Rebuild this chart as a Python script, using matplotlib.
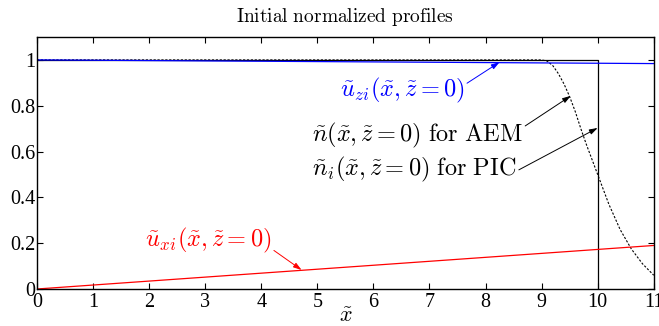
import matplotlib
matplotlib.use("Agg")
import matplotlib.pyplot as plt

plt.rcParams["mathtext.fontset"] = "cm"
plt.rcParams["font.family"] = "Liberation Serif"

# PIC ion density: flat top with a sharp edge at x = 10
x_pic = [0, 10, 10]
n_pic = [1.0, 1.0, 0.0]

# AEM density: flat, then a smooth fall-off past x ~ 9
x_aem = [0, 9.0, 9.1, 9.2, 9.3, 9.4, 9.5, 9.6, 9.7, 9.8, 9.9, 10.0,
         10.2, 10.4, 10.6, 10.8, 11.0]
n_aem = [1.0, 1.0, 0.995, 0.975, 0.94, 0.895, 0.84, 0.775, 0.70, 0.63,
         0.565, 0.5, 0.37, 0.26, 0.175, 0.11, 0.06]

# ion velocity components
x_u = [0, 11]
u_zi = [1.0, 0.984]
u_xi = [0.0, 0.19]

fig = plt.figure(figsize=(6.59, 3.26), dpi=100)
ax = fig.add_axes([0.056, 0.1135, 0.936, 0.773])

ax.plot(x_pic, n_pic, color="black", lw=0.9)
ax.plot(x_aem, n_aem, color="black", lw=0.8, dashes=(2.0, 1.5))
ax.plot(x_u, u_zi, color="blue", lw=0.9)
ax.plot(x_u, u_xi, color="red", lw=0.9)

ax.set_xlim(0, 11)
ax.set_ylim(0, 1.1)
ax.set_xticks(range(0, 12))
ax.set_yticks([0, 0.2, 0.4, 0.6, 0.8, 1.0])
ax.set_yticklabels(["0", "0.2", "0.4", "0.6", "0.8", "1"])
ax.tick_params(direction="in", top=True, right=True, labelsize=14.5,
               length=4, width=0.8)
ax.tick_params(axis="x", pad=3)
ax.tick_params(axis="y", pad=1)
for s in ax.spines.values():
    s.set_linewidth(1.0)

ax.set_xlabel(r"$\tilde{x}$", fontsize=16, labelpad=-3)
ax.set_title(r"$\mathrm{Initial\ normalized\ profiles}$", fontsize=14, pad=11)

arrow = dict(arrowstyle="-|>,head_length=0.28,head_width=0.09",
             color="black", lw=0.7, shrinkA=0, shrinkB=0)

fs = 17.5
ax.annotate(r"$\tilde{u}_{zi}(\tilde{x},\tilde{z}=0)$", xy=(8.25, 0.99),
            xytext=(6.51, 0.865), ha="center", va="center", fontsize=fs,
            color="blue", arrowprops=dict(arrow, color="blue", relpos=(1.0, 0.7)))
ax.annotate(r"$\tilde{n}(\tilde{x},\tilde{z}=0)\ \mathrm{for\ AEM}$",
            xy=(9.52, 0.843), xytext=(4.9, 0.672), ha="left", va="center",
            fontsize=fs, arrowprops=dict(arrow, relpos=(1.0, 0.75)))
ax.annotate(r"$\tilde{n}_i(\tilde{x},\tilde{z}=0)\ \mathrm{for\ PIC}$",
            xy=(10.0, 0.703), xytext=(4.9, 0.52), ha="left", va="center",
            fontsize=fs, arrowprops=dict(arrow, relpos=(1.0, 0.45)))
ax.annotate(r"$\tilde{u}_{xi}(\tilde{x},\tilde{z}=0)$", xy=(4.72, 0.083),
            xytext=(3.05, 0.214), ha="center", va="center", fontsize=fs,
            color="red", arrowprops=dict(arrow, color="red", relpos=(0.97, 0.3)))

fig.savefig("out.png", dpi=100)
plt.close(fig)
